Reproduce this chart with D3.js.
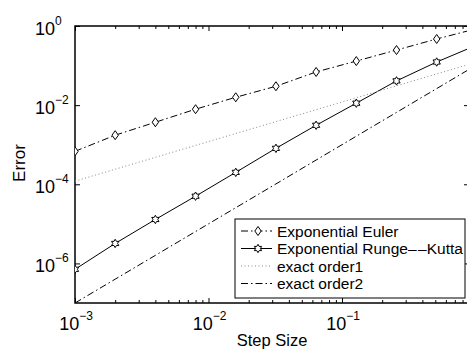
<!DOCTYPE html>
<html>
<head>
<meta charset="utf-8">
<script src="https://cdn.jsdelivr.net/npm/d3@7"></script>
<style>
  body { margin: 0; background: #fff; }
  svg { display: block; font-family: "Liberation Sans", Arial, Helvetica, sans-serif; }
</style>
</head>
<body>
<svg id="chart"></svg>
<script>
// step sizes and measured errors
const stepSizes = [0.001, 0.002, 0.004, 0.008, 0.016, 0.032, 0.064, 0.128, 0.256, 0.512, 1.024];
const eulerErr = [6.8e-4, 1.74e-3, 3.7e-3, 7.9e-3, 1.58e-2, 3.0e-2, 6.9e-2, 0.13, 0.247, 0.47, 0.86];
const rkErr = [7.1e-7, 3.2e-6, 1.29e-5, 5.0e-5, 2.0e-4, 8.1e-4, 3.1e-3, 1.12e-2, 4.1e-2, 0.123, 0.33];
const order1 = [1.2e-4, 2.4e-4, 4.8e-4, 9.6e-4, 1.92e-3, 3.84e-3, 7.68e-3, 1.54e-2, 3.07e-2, 6.14e-2, 0.123];
const order2 = [1e-7, 4e-7, 1.6e-6, 6.4e-6, 2.56e-5, 1.02e-4, 4.1e-4, 1.64e-3, 6.55e-3, 2.62e-2, 0.105];

const legendNames = ["Exponential Euler", "Exponential Runge\u2013\u2013Kutta", "exact order1", "exact order2"];
const xTickExp = [-3, -2, -1];
const yTickExp = [0, -2, -4, -6];

const width = 467, height = 350;
const mLeft = 75, mRight = 469, mTop = 26, mBottom = 303;

const svg = d3.select("#chart").attr("width", width).attr("height", height);

const x = d3.scaleLog().domain([1e-3, 0.894]).range([mLeft, mRight]);
const y = d3.scaleLog().domain([1e-7, 1]).range([mBottom, mTop]);

svg.append("clipPath").attr("id", "plotclip")
  .append("rect").attr("x", mLeft).attr("y", mTop).attr("width", mRight - mLeft).attr("height", mBottom - mTop);

// ticks (inward, on all four sides)
const minorX = [];
xTickExp.forEach(e => { for (let k = 2; k <= 9; k++) minorX.push(k * Math.pow(10, e)); });
const majorX = xTickExp.map(e => Math.pow(10, e));
const majorY = yTickExp.map(e => Math.pow(10, e));
const minorIn = minorX.filter(v => v < 0.894);

function styleAxis(g) {
  g.select(".domain").remove();
  g.selectAll(".tick line").attr("stroke", "#000").attr("stroke-width", 1);
  g.selectAll(".tick text").remove();
}

svg.append("g").attr("transform", `translate(0,${mBottom})`)
  .call(d3.axisBottom(x).tickValues(minorIn).tickSize(-3)).call(styleAxis);
svg.append("g").attr("transform", `translate(0,${mBottom})`)
  .call(d3.axisBottom(x).tickValues(majorX).tickSize(-5)).call(styleAxis);
svg.append("g").attr("transform", `translate(0,${mTop})`)
  .call(d3.axisTop(x).tickValues(minorIn).tickSize(-3)).call(styleAxis);
svg.append("g").attr("transform", `translate(0,${mTop})`)
  .call(d3.axisTop(x).tickValues(majorX).tickSize(-5)).call(styleAxis);
svg.append("g").attr("transform", `translate(${mLeft},0)`)
  .call(d3.axisLeft(y).tickValues(majorY).tickSize(-5)).call(styleAxis);
svg.append("g").attr("transform", `translate(${mRight},0)`)
  .call(d3.axisRight(y).tickValues(majorY).tickSize(-5)).call(styleAxis);

// box
svg.append("rect")
  .attr("x", mLeft).attr("y", mTop).attr("width", mRight - mLeft).attr("height", mBottom - mTop)
  .attr("fill", "none").attr("stroke", "#000").attr("stroke-width", 1.5);

// tick labels
yTickExp.forEach(e => {
  const t = svg.append("text").attr("x", 35).attr("y", y(Math.pow(10, e)) + 9)
    .attr("font-size", 18).attr("fill", "#000");
  t.append("tspan").text("10");
  t.append("tspan").attr("font-size", 12).attr("dy", -10).text(e === 0 ? "0" : "\u2212" + (-e));
});
xTickExp.forEach(e => {
  const t = svg.append("text").attr("x", x(Math.pow(10, e)) + 1).attr("y", 330)
    .attr("text-anchor", "middle").attr("font-size", 18).attr("fill", "#000");
  t.append("tspan").text("10");
  t.append("tspan").attr("font-size", 12).attr("dy", -10).text("\u2212" + (-e));
});

// axis titles
svg.append("text").attr("x", (mLeft + mRight) / 2).attr("y", 346)
  .attr("text-anchor", "middle").attr("font-size", 16.5).text("Step Size");
svg.append("text").attr("transform", "translate(25,163) rotate(-90)")
  .attr("text-anchor", "middle").attr("font-size", 17).text("Error");

// series
const series = [
  { vals: eulerErr, dash: "7,3,1.5,3", color: "#000", marker: "diamond" },
  { vals: rkErr, dash: null, color: "#000", marker: "hexagram" },
  { vals: order1, dash: "1,2.5", color: "#888", marker: null },
  { vals: order2, dash: "7,3,1.5,3", color: "#000", marker: null }
];

const line = d3.line().x(d => x(d[0])).y(d => y(d[1]));

const diamondPath = "M0,-4.5L3.2,0L0,4.5L-3.2,0Z";
const hexPts = [];
for (let i = 0; i < 12; i++) {
  const a = -Math.PI / 2 + i * Math.PI / 6;
  const r = i % 2 === 0 ? 4.2 : 2.4;
  hexPts.push([r * Math.cos(a), r * Math.sin(a)]);
}
const hexagramPath = "M" + hexPts.map(p => p.join(",")).join("L") + "Z";

const plot = svg.append("g").attr("clip-path", "url(#plotclip)");

series.forEach(s => {
  const pts = stepSizes.map((h, i) => [h, s.vals[i]]);
  plot.append("path").datum(pts)
    .attr("fill", "none").attr("stroke", s.color).attr("stroke-width", 1)
    .attr("stroke-dasharray", s.dash)
    .attr("d", line);
  if (s.marker) {
    plot.selectAll(null).data(pts).enter().append("path")
      .attr("transform", d => `translate(${x(d[0])},${y(d[1])})`)
      .attr("d", s.marker === "diamond" ? diamondPath : hexagramPath)
      .attr("fill", "#fff").attr("stroke", "#000").attr("stroke-width", 1);
  }
});

// legend
const lg = svg.append("g");
lg.append("rect").attr("x", 235).attr("y", 219).attr("width", 230).attr("height", 79)
  .attr("fill", "#fff").attr("stroke", "#000").attr("stroke-width", 1);
const rowY = [231, 248.5, 266, 283.5];
series.forEach((s, i) => {
  lg.append("line").attr("x1", 241).attr("x2", 272).attr("y1", rowY[i]).attr("y2", rowY[i])
    .attr("stroke", s.color).attr("stroke-width", 1).attr("stroke-dasharray", s.dash);
  if (s.marker) {
    lg.append("path").attr("transform", `translate(258,${rowY[i]})`)
      .attr("d", s.marker === "diamond" ? diamondPath : hexagramPath)
      .attr("fill", "#fff").attr("stroke", "#000");
  }
  const t = lg.append("text").attr("x", 277).attr("y", rowY[i] + 5.5).attr("font-size", 15.5);
  // split the double dash so the two dashes stay apart
  const parts = legendNames[i].split("\u2013\u2013");
  t.append("tspan").text(parts[0] + (parts.length > 1 ? "\u2013" : ""));
  if (parts.length > 1) t.append("tspan").attr("dx", 1.5).text("\u2013" + parts[1]);
});
</script>
</body>
</html>
